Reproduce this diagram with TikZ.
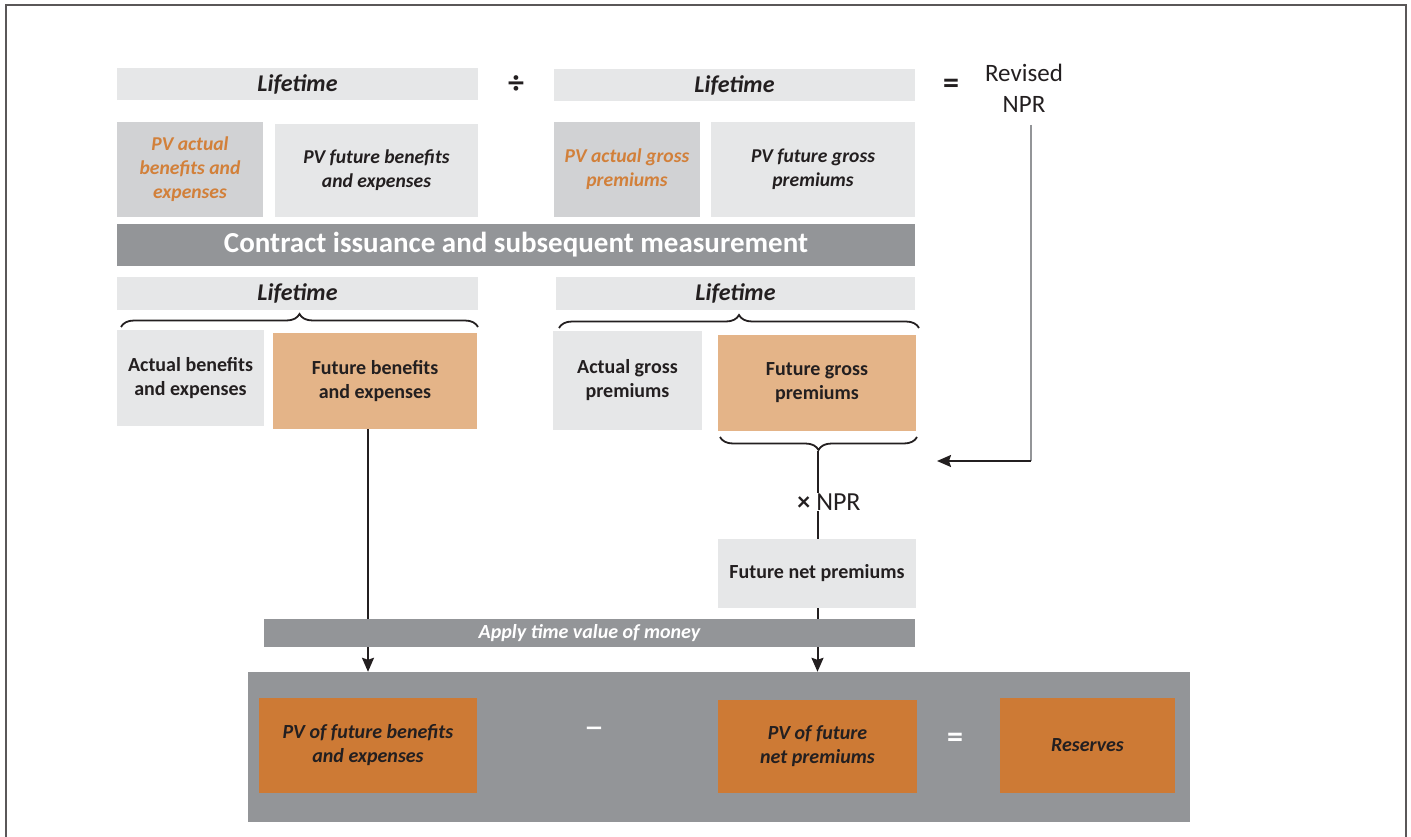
\documentclass[tikz,border=0pt]{standalone}
\usepackage{fontspec}
\setmainfont{Carlito}
\usetikzlibrary{positioning, arrows.meta, decorations.pathreplacing}

\definecolor{lightgray}{HTML}{E6E7E8}
\definecolor{midgray}{HTML}{D1D2D4}
\definecolor{darkgray}{HTML}{939598}
\definecolor{tan}{HTML}{E4B488}
\definecolor{burnt}{HTML}{CD7A35}
\definecolor{orangetext}{HTML}{D2803A}
\definecolor{ink}{HTML}{231F20}

\begin{document}
\begin{tikzpicture}[
    x=1pt, y=1pt,
    box/.style={rectangle, inner sep=0pt, align=center, text=ink},
    italbox/.style={box, font=\fontsize{19.6}{24}\selectfont\bfseries\itshape},
    boldbox/.style={box, font=\fontsize{20}{24}\selectfont\bfseries},
    resultbox/.style={box, fill=burnt, font=\fontsize{20}{24}\selectfont\bfseries\itshape},
    lifebar/.style={box, fill=lightgray, minimum height=32pt,
                    font=\fontsize{24}{26}\selectfont\bfseries\itshape},
    sign/.style={text=ink, font=\fontsize{32}{32}\selectfont\bfseries},
    arrow/.style={-{Stealth[length=14pt, width=12pt, inset=2pt]}, line width=2pt, draw=ink},
    curly/.style={decorate, decoration={brace, amplitude=13pt}, line width=1.8pt, draw=ink}
]
    \useasboundingbox (0,0) rectangle (1411,-837);

    % Frame
    \draw[ink!75, line width=2pt] (6,-837) -- (6,-5) -- (1406,-5) -- (1406,-837);

    % Top row: revised NPR ratio
    \node[lifebar, minimum width=361pt] (lifeA) at (297.5,-84.5) {Lifetime};
    \node[lifebar, minimum width=361pt] (lifeB) at (734.5,-85) {Lifetime};
    \node[sign] (divide) at (516,-85) {÷};
    \node[sign] (eqtop) at (951,-86) {=};
    \node[box, font=\fontsize{25}{31}\selectfont] (revised) at (1024,-88) {Revised\\NPR};

    \node[italbox, fill=midgray, text=orangetext, minimum width=146pt, minimum height=95pt] (pvact) at (190,-169.5) {PV actual\\benefits and\\expenses};
    \node[italbox, fill=lightgray, minimum width=203pt, minimum height=93pt] (pvfut) at (376.5,-170.5) {PV future benefits\\and expenses};
    \node[italbox, fill=midgray, text=orangetext, minimum width=146pt, minimum height=95pt] (pvactg) at (627,-169.5) {PV actual gross\\premiums};
    \node[italbox, fill=lightgray, minimum width=204pt, minimum height=95pt] (pvfutg) at (813,-169.5) {PV future gross\\premiums};

    % Banner
    \node[box, fill=darkgray, text=white, minimum width=798pt, minimum height=42pt,
          font=\fontsize{29}{32}\selectfont\bfseries] (banner) at (516,-245) {Contract issuance and subsequent measurement};

    % Middle row
    \node[lifebar, minimum width=361pt, minimum height=33pt] (lifeC) at (297.5,-293.5) {Lifetime};
    \node[lifebar, minimum width=359pt, minimum height=33pt] (lifeD) at (735.5,-293.5) {Lifetime};
    \draw[curly] (121,-327) -- (478,-327);
    \draw[curly] (559,-328) -- (919,-328);

    \node[boldbox, fill=lightgray, minimum width=147pt, minimum height=96pt] (actben) at (190.5,-378) {Actual benefits\\and expenses};
    \node[boldbox, fill=tan, minimum width=204pt, minimum height=96pt] (futben) at (375,-381) {Future benefits\\and expenses};
    \node[boldbox, fill=lightgray, minimum width=149pt, minimum height=99pt] (actgross) at (627.5,-380.5) {Actual gross\\premiums};
    \node[boldbox, fill=tan, minimum width=198pt, minimum height=96pt] (futgross) at (817,-383) {Future gross\\premiums};
    \draw[curly] (917,-437) -- (720,-437);
    \coordinate (gtip) at (818,-451);

    \node[box, font=\fontsize{26}{28}\selectfont] (npr) at (829,-502) {\textbf{×} NPR};
    \node[boldbox, fill=lightgray, minimum width=198pt, minimum height=69pt] (futnet) at (817,-573.5) {Future net premiums};

    % Result block
    \node[box, fill=darkgray, minimum width=942pt, minimum height=150pt] (bottom) at (719,-747) {};
    \node[resultbox, minimum width=218pt, minimum height=95pt] (pvben) at (368,-745.5) {PV of future benefits\\and expenses};
    \node[resultbox, minimum width=199pt, minimum height=93pt] (pvnet) at (817.5,-746.5) {PV of future\\net premiums};
    \node[resultbox, minimum width=175pt, minimum height=95pt] (reserves) at (1087.5,-745.5) {Reserves};
    \node[text=white, font=\fontsize{40}{40}\selectfont] (minus) at (594,-733) {–};
    \node[sign, text=white] (eqbot) at (955,-740) {=};

    % Connectors
    \coordinate (rtop) at (1031,-125);
    \coordinate (rcorner) at (1031,-461);
    \draw[darkgray, line width=2pt] (rtop) -- (rcorner);
    \draw[arrow] (rcorner) -- ++(-94,0);
    \draw[ink, line width=2pt] (gtip) -- (npr.north -| gtip);
    \draw[ink, line width=2pt] (npr.south -| gtip) -- (futnet.north -| gtip);
    \draw[arrow] (pvben |- futben.south) -- (pvben |- bottom.north);
    \draw[arrow] (pvnet |- futnet.south) -- (pvnet |- bottom.north);

    % Time value bar drawn over the connectors
    \node[box, fill=darkgray, text=white, minimum width=651pt, minimum height=28pt,
          font=\fontsize{20}{22}\selectfont\bfseries\itshape] (tvm) at (589.5,-633) {Apply time value of money};
\end{tikzpicture}
\end{document}
